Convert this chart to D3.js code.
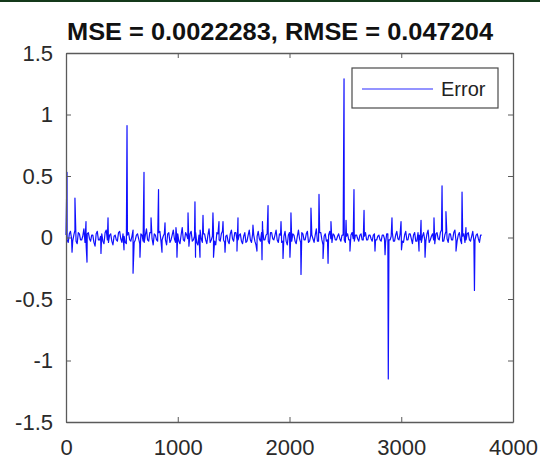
<!DOCTYPE html>
<html>
<head>
<meta charset="utf-8">
<script src="https://cdn.jsdelivr.net/npm/d3@7/dist/d3.min.js"></script>
<style>
  body { margin: 0; background: #fff; }
  svg { display: block; font-family: "Liberation Sans", Arial, sans-serif; }
</style>
</head>
<body>
<svg id="MyGraph" width="540" height="464"></svg>
<script>
// baseline noise, one value every 20 samples (0 .. 3720)
var noiseStep = 20;
var noiseVals = [
  0.02, -0.04, 0.05, -0.03, 0.06, -0.05, 0.03, -0.02, 0.07, -0.06,
  0.04, -0.03, 0.02, -0.07, 0.05, -0.02, 0.03, -0.05, 0.06, -0.04,
  0.03, -0.06, 0.02, -0.03, 0.05, -0.04, 0.01, -0.05, 0.04, -0.03,
  0.06, -0.02, 0.03, -0.05, 0.02, -0.04, 0.07, -0.03, 0.04, -0.06,
  0.02, -0.03, 0.05, -0.02, 0.03, -0.06, 0.04, -0.02, 0.06, -0.04,
  0.03, -0.05, 0.08, -0.03, 0.02, -0.07, 0.05, -0.02, 0.04, -0.06,
  0.06, -0.04, 0.03, -0.05, 0.07, -0.02, 0.04, -0.06, 0.03, -0.03,
  0.05, -0.04, 0.02, -0.05, 0.06, -0.03, 0.04, -0.02, 0.03, -0.05,
  0.04, -0.03, 0.06, -0.04, 0.02, -0.06, 0.05, -0.03, 0.07, -0.02,
  0.03, -0.05, 0.04, -0.02, 0.06, -0.04, 0.02, -0.03, 0.05, -0.06,
  0.04, -0.03, 0.02, -0.05, 0.06, -0.04, 0.03, -0.02, 0.05, -0.03,
  0.02, -0.04, 0.07, -0.03, 0.04, -0.06, 0.03, -0.02, 0.05, -0.04,
  0.02, -0.02, 0.03, -0.03, 0.02, -0.04, 0.03, -0.02, 0.04, -0.03,
  0.02, -0.03, 0.03, -0.02, 0.04, -0.02, 0.02, -0.03, 0.03, -0.02,
  0.02, -0.03, 0.02, -0.04, 0.03, -0.02, 0.04, -0.03, 0.05, -0.02,
  0.03, -0.04, 0.05, -0.02, 0.03, -0.05, 0.04, -0.03, 0.02, -0.04,
  0.04, -0.03, 0.06, -0.02, 0.03, -0.05, 0.04, -0.02, 0.06, -0.03,
  0.05, -0.04, 0.03, -0.02, 0.06, -0.03, 0.04, -0.05, 0.03, -0.02,
  0.04, -0.03, 0.05, -0.02, 0.03, -0.04, 0.02
];
// in-between noise, at 10, 30, 50 ... 3710
var noiseVals2 = [
  -0.02, 0.03, -0.01, 0.02, -0.03, 0.04, -0.02, 0.01, -0.04, 0.03,
  -0.01, 0.02, -0.04, 0.03, -0.02, 0.01, -0.03, 0.04, -0.02, 0.02,
  -0.03, 0.01, -0.02, 0.04, -0.01, 0.03, -0.04, 0.02, -0.02, 0.01,
  -0.04, 0.02, -0.01, 0.03, -0.03, 0.02, -0.02, 0.04, -0.01, 0.03,
  -0.02, 0.04, -0.03, 0.01, -0.02, 0.03, -0.04, 0.02, -0.01, 0.02,
  -0.03, 0.02, -0.02, 0.04, -0.01, 0.03, -0.03, 0.01, -0.04, 0.02,
  -0.01, 0.03, -0.02, 0.02, -0.04, 0.01, -0.03, 0.04, -0.02, 0.03,
  -0.02, 0.01, -0.03, 0.03, -0.01, 0.04, -0.02, 0.02, -0.03, 0.01,
  -0.04, 0.02, -0.02, 0.03, -0.03, 0.01, -0.01, 0.04, -0.02, 0.02,
  -0.03, 0.04, -0.01, 0.02, -0.02, 0.03, -0.04, 0.01, -0.03, 0.02,
  -0.02, 0.03, -0.03, 0.01, -0.01, 0.04, -0.02, 0.03, -0.04, 0.02,
  -0.01, 0.02, -0.03, 0.04, -0.02, 0.01, -0.03, 0.02, -0.01, 0.03,
  -0.02, 0.01, -0.01, 0.02, -0.02, 0.01, -0.02, 0.02, -0.01, 0.02,
  -0.01, 0.02, -0.02, 0.01, -0.02, 0.02, -0.01, 0.02, -0.02, 0.01,
  -0.02, 0.02, -0.01, 0.03, -0.02, 0.01, -0.03, 0.02, -0.01, 0.03,
  -0.03, 0.02, -0.02, 0.03, -0.01, 0.02, -0.03, 0.04, -0.02, 0.01,
  -0.02, 0.03, -0.04, 0.01, -0.02, 0.03, -0.01, 0.04, -0.03, 0.02,
  -0.01, 0.03, -0.02, 0.04, -0.03, 0.02, -0.02, 0.01, -0.04, 0.03,
  -0.02, 0.01, -0.03, 0.02, -0.01, 0.02
];

// spikes
var spikeIdx = [9, 54, 80, 179, 188, 313, 376, 519, 546, 600, 662, 698, 761, 828, 859, 886,
  984, 993, 1092, 1154, 1159, 1199, 1226, 1315, 1320, 1369, 1405, 1423, 1530, 1539, 1673,
  1709, 1754, 1758, 1808, 1924, 1942, 2004, 2013, 2103, 2192, 2264, 2300, 2345, 2371,
  2488, 2506, 2541, 2577, 2667, 2765, 2855, 2884, 2917, 2998, 3002, 3159, 3177, 3213,
  3293, 3365, 3400, 3490, 3544, 3579, 3655];
var spikeVal = [0.53, -0.12, 0.32, 0.13, -0.20, -0.13, 0.16, -0.10, 0.91, -0.29, -0.16, 0.53, 0.16, 0.39, -0.12, 0.12,
  0.08, -0.16, 0.20, 0.29, -0.16, -0.16, 0.18, 0.20, -0.16, 0.13, 0.13, -0.12, -0.11, 0.16, 0.10,
  -0.11, -0.18, 0.13, 0.26, 0.13, -0.17, -0.16, 0.20, -0.30, 0.24, 0.35, -0.17, -0.21, 0.13,
  1.29, 0.14, -0.11, 0.39, 0.22, -0.11, -0.14, -1.15, 0.16, 0.13, -0.10, -0.11, 0.14, -0.16,
  0.16, 0.42, 0.21, -0.11, 0.37, 0.08, -0.43];

var xTicks = [0, 1000, 2000, 3000, 4000];
var yTicks = [-1.5, -1, -0.5, 0, 0.5, 1, 1.5];
var titleText = "MSE = 0.0022283, RMSE = 0.047204";
var seriesName = "Error";

var pts = [];
noiseVals.forEach(function(v, i){ pts.push({i: i * noiseStep, v: v}); });
noiseVals2.forEach(function(v, i){ pts.push({i: i * noiseStep + noiseStep / 2, v: v}); });
spikeIdx.forEach(function(k, j){ pts.push({i: k, v: spikeVal[j]}); });
pts.sort(function(a, b){ return a.i - b.i; });

var svg = d3.select("#MyGraph");

// thin dark strip at the very top of the picture
svg.append("rect").attr("x", 0).attr("y", 0).attr("width", 540).attr("height", 2).attr("fill", "#14391a");

var margin = {top: 53, right: 27, bottom: 42, left: 66},
    width = 540 - margin.left - margin.right,
    height = 464 - margin.top - margin.bottom,
    g = svg.append("g").attr("transform", "translate(" + margin.left + "," + margin.top + ")");

var x = d3.scaleLinear().domain([0, 4000]).range([0, width]);
var y = d3.scaleLinear().domain([-1.5, 1.5]).range([height, 0]);

var line = d3.line()
    .x(function(d) { return x(d.i); })
    .y(function(d) { return y(d.v); });

g.append("path")
    .datum(pts)
    .attr("fill", "none")
    .attr("stroke", "#1010ff")
    .attr("stroke-width", 1.2)
    .attr("stroke-linejoin", "round")
    .attr("d", line);

function styleAxis(sel) {
  sel.selectAll("path").attr("stroke", "#5a5a5a").attr("stroke-width", 1.3);
  sel.selectAll("line").attr("stroke", "#5a5a5a");
  sel.selectAll("text").attr("fill", "#2a2a2a").style("font-size", "22px");
}

var plain = function(d) { return String(d); };

g.append("g")
    .attr("transform", "translate(0," + height + ")")
    .call(d3.axisBottom(x).tickValues(xTicks).tickFormat(plain).tickSizeInner(-5).tickSizeOuter(0).tickPadding(17))
    .call(styleAxis);

g.append("g")
    .call(d3.axisLeft(y).tickValues(yTicks).tickFormat(plain).tickSizeInner(-5).tickSizeOuter(0).tickPadding(13))
    .call(styleAxis);

g.append("g")
    .call(d3.axisTop(x).tickValues(xTicks).tickFormat("").tickSizeInner(-5).tickSizeOuter(0))
    .call(styleAxis);

g.append("g")
    .attr("transform", "translate(" + width + ",0)")
    .call(d3.axisRight(y).tickValues(yTicks).tickFormat("").tickSizeInner(-5).tickSizeOuter(0))
    .call(styleAxis);

svg.selectAll(".domain").attr("fill", "none");

// title
svg.append("text")
    .attr("x", 280)
    .attr("y", 40)
    .attr("text-anchor", "middle")
    .attr("font-weight", "bold")
    .attr("font-size", 23)
    .attr("fill", "#111")
    .attr("textLength", 426)
    .attr("lengthAdjust", "spacingAndGlyphs")
    .text(titleText);

// legend
var legend = svg.append("g").attr("transform", "translate(352,68)");
legend.append("rect")
    .attr("width", 146).attr("height", 40)
    .attr("fill", "#fff").attr("stroke", "#4a4a4a").attr("stroke-width", 1.2);
legend.append("line")
    .attr("x1", 10).attr("x2", 81).attr("y1", 21).attr("y2", 21)
    .attr("stroke", "#2a2aff").attr("stroke-width", 1.1);
legend.append("text")
    .attr("x", 89).attr("y", 21).attr("dy", "0.35em")
    .attr("font-size", 20).attr("fill", "#222")
    .text(seriesName);
</script>
</body>
</html>
